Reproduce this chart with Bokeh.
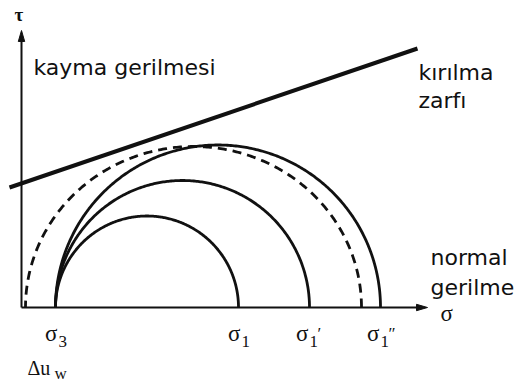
import numpy as np
from bokeh.plotting import figure
from bokeh.models import Range1d
from bokeh.core.properties import value
from bokeh.embed import file_html
from bokeh.resources import INLINE

# ---- data (schematic stress units) ----
sigma3 = 34.0                       # minor principal stress (effective)
sigma1_values = [217.0, 288.0, 359.0]   # sigma1, sigma1', sigma1''
sigma1_labels = ["", "\u2032", "\u2033"]
total_left = 4.0                    # dashed (total stress) circle, left end
total_right = 340.0                 # dashed circle, right end
total_height = 161.0                # dashed circle, peak shear
envelope_sigma = [-12.0, 396.0]     # failure envelope end points (sigma)
envelope_tau = [120.0, 259.0]       # failure envelope end points (tau)
axis_sigma_max = 406.0
axis_tau_max = 277.0

W, H = 515, 383
p = figure(width=W, height=H, output_backend="svg", toolbar_location=None,
           x_axis_location=None, y_axis_location=None, min_border=0,
           x_range=Range1d(-21, W - 21), y_range=Range1d(307 - H, 307))
p.grid.visible = False
p.outline_line_color = None
p.background_fill_color = "white"
p.border_fill_color = "white"

ink = "#111111"

# axes
p.line([0, axis_sigma_max - 8], [0, 0], line_color=ink, line_width=2)
p.line([0, 0], [0, axis_tau_max - 8], line_color=ink, line_width=2)

def head(tx, ty, dx, dy, length=11, half=3.2):
    bx, by = tx - dx * length, ty - dy * length
    nx, ny = -dy, dx
    return [tx, bx + nx * half, bx - nx * half], [ty, by + ny * half, by - ny * half]

hx, hy = head(axis_sigma_max, 0, 1, 0)
p.patch(hx, hy, fill_color=ink, line_color=ink, line_width=1)
vx, vy = head(0, axis_tau_max, 0, 1)
p.patch(vx, vy, fill_color=ink, line_color=ink, line_width=1)

# effective stress Mohr circles
theta = np.linspace(0, np.pi, 300)
for s1 in sigma1_values:
    c = (sigma3 + s1) / 2
    r = (s1 - sigma3) / 2
    p.line(c + r * np.cos(theta), r * np.sin(theta), line_color=ink, line_width=2.8)

# total stress circle (dashed)
c = (total_left + total_right) / 2
a = (total_right - total_left) / 2
p.line(c + a * np.cos(theta), total_height * np.sin(theta), line_color=ink,
       line_width=2.8, line_dash="9 6")

# failure envelope
p.line(envelope_sigma, envelope_tau, line_color=ink, line_width=4)

# sans-serif annotations
sans = value("DejaVu Sans")
p.text(x=[12], y=[240], text=["kayma gerilmesi"], text_font=sans,
       text_font_size="22px", text_color=ink, text_baseline="alphabetic")
p.text(x=[397, 397], y=[235, 207], text=["kırılma", "zarfı"], text_font=sans,
       text_font_size="22px", text_color=ink, text_baseline="alphabetic")
p.text(x=[409, 409], y=[50, 20], text=["normal", "gerilme"], text_font=sans,
       text_font_size="22px", text_color=ink, text_baseline="alphabetic")

# serif symbols
serif = value("Liberation Serif")
p.text(x=[-2.5], y=[293.5], text=["τ"], text_font=serif, text_font_size="19px",
       text_font_style="bold", text_color=ink, text_align="center",
       text_baseline="middle")
p.text(x=[419], y=[-6], text=["σ"], text_font=serif, text_font_size="23px",
       text_color=ink, text_baseline="alphabetic")

vals = [sigma3] + sigma1_values
subs = ["3", "1", "1", "1"]
primes = [""] + sigma1_labels
shift = {0: 2, 1: -1, 2: -2}
sx, sub_x, pr_x, pr_t = [], [], [], []
for v, pr in zip(vals, primes):
    s = v + shift[len(pr)]
    sx.append(s)
    sub_x.append(s + 1)
    if pr:
        pr_x.append(s + 9)
        pr_t.append(pr)
p.text(x=sx, y=[-26] * len(sx), text=["σ"] * len(sx), text_font=serif,
       text_font_size="23px", text_color=ink, text_align="right",
       text_baseline="alphabetic")
p.text(x=sub_x, y=[-34] * len(sub_x), text=subs, text_font=serif,
       text_font_size="17px", text_color=ink, text_baseline="alphabetic")
p.text(x=pr_x, y=[-26] * len(pr_x), text=pr_t, text_font=serif,
       text_font_size="17px", text_color=ink, text_baseline="alphabetic")

p.text(x=[6], y=[-60], text=["Δu"], text_font=serif, text_font_size="20px",
       text_color=ink, text_baseline="alphabetic")
p.text(x=[33], y=[-66], text=["w"], text_font=serif, text_font_size="17px",
       text_color=ink, text_baseline="alphabetic")

open("out.html", "w").write(file_html(p, INLINE))
